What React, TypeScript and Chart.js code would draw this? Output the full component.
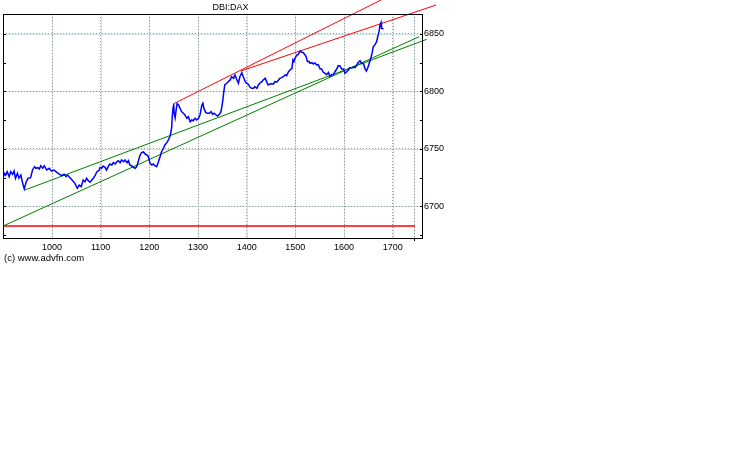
import { useEffect, useRef } from 'react';
import { Chart, registerables } from 'chart.js';

Chart.register(...registerables);

// Intraday time axis (HHMM-style index) and DAX price
const times = [
  900, 903, 905, 908, 912, 915, 919, 922, 925, 929, 932, 936, 939, 943, 947, 951, 956, 960, 964, 967,
  971, 974, 977, 981, 984, 989, 994, 999, 1004, 1010, 1015, 1020, 1025, 1029, 1032, 1037, 1043, 1047, 1052, 1056,
  1060, 1064, 1068, 1071, 1075, 1078, 1082, 1085, 1088, 1092, 1097,
  1099, 1102, 1105, 1109, 1112, 1116, 1119, 1123, 1126, 1130, 1133, 1136, 1140, 1143, 1147, 1150, 1154, 1157, 1160,
  1164, 1167, 1171, 1174, 1177, 1181, 1184, 1188, 1191, 1195, 1198, 1201, 1205, 1208, 1212, 1215, 1218, 1222, 1225,
  1229, 1232, 1236, 1239, 1242, 1244, 1246, 1247, 1249, 1250, 1251, 1253, 1255, 1257, 1260, 1263, 1266, 1270, 1273,
  1277, 1280, 1284, 1287, 1290, 1294, 1297, 1301, 1304, 1308, 1310, 1312, 1316, 1320, 1323, 1327, 1330, 1333, 1337,
  1340, 1344, 1347, 1349, 1351, 1353, 1355, 1359, 1362, 1366, 1369, 1373, 1376, 1380, 1383, 1386, 1390, 1393, 1397,
  1400, 1403, 1407, 1410, 1414, 1417, 1421, 1424, 1427, 1431, 1434, 1438, 1441, 1444, 1448, 1451, 1455, 1458, 1462, 1465,
  1468, 1472, 1475, 1479, 1482, 1486, 1489, 1493, 1495, 1497, 1499, 1503, 1506, 1510, 1513, 1516, 1520, 1522, 1525,
  1528, 1530, 1534, 1537, 1540, 1544, 1547, 1551, 1554, 1557, 1561, 1564, 1568, 1571, 1575, 1578, 1581, 1585, 1588,
  1592, 1595, 1599, 1602, 1606, 1609, 1612, 1616, 1619, 1623, 1626, 1629, 1633, 1636, 1640, 1643, 1646, 1649, 1652,
  1655, 1658, 1660, 1664, 1667, 1669, 1672, 1674, 1676, 1677, 1681,
];

const prices = [
  6725.8, 6728.7, 6727.2, 6730.1, 6725.8, 6730.1, 6727.9, 6730.7, 6724.4, 6728.7, 6724.4, 6727.2, 6721.4, 6715.2, 6721.4, 6724.4, 6724.9, 6731.6, 6734.5, 6733.1,
  6733.6, 6732.5, 6735.3, 6733.1, 6735.3, 6731.6, 6733.1, 6730.7, 6731.6, 6729.6, 6727.9, 6726.6, 6727.9, 6725.8, 6727.2, 6724.9, 6722.0, 6720.0, 6715.7, 6718.5,
  6717.1, 6722.9, 6721.4, 6724.4, 6722.0, 6720.9, 6722.9, 6724.4, 6726.4, 6729.9, 6731.6,
  6733.9, 6733.1, 6735.1, 6733.9, 6731.6, 6735.1, 6736.8, 6736.0, 6738.0, 6736.8, 6738.8, 6739.7, 6738.0, 6740.3, 6738.8, 6740.3, 6738.0, 6739.7, 6736.0,
  6735.1, 6733.9, 6733.1, 6734.5, 6738.8, 6744.7, 6746.7, 6747.3, 6745.5, 6744.7, 6743.2, 6738.0, 6736.0, 6736.8, 6735.1, 6734.5, 6738.0, 6743.2, 6747.5,
  6750.5, 6753.4, 6755.4, 6757.7, 6760.6, 6763.6, 6769.3, 6778.0, 6786.7, 6789.1, 6781.0, 6776.9, 6783.8, 6789.5, 6788.2, 6785.3, 6782.4, 6781.0, 6779.5,
  6776.6, 6778.0, 6773.6, 6775.1, 6774.5, 6776.6, 6775.1, 6776.6, 6779.5, 6788.2, 6789.7, 6785.3, 6781.5, 6781.0, 6781.0, 6782.4, 6780.1, 6781.0, 6779.5,
  6778.6, 6780.1, 6782.4, 6786.7, 6792.5, 6799.8, 6805.6, 6807.1, 6808.5, 6810.0, 6812.8, 6811.4, 6814.3, 6810.0, 6807.1, 6812.8, 6816.3, 6812.8, 6808.5,
  6807.1, 6806.5, 6803.6, 6802.7, 6802.7, 6804.1, 6802.7, 6805.6, 6807.1, 6808.5, 6810.0, 6811.4, 6808.5, 6805.6, 6806.5, 6806.6, 6806.5, 6808.5, 6808.2, 6809.7,
  6811.4, 6812.0, 6812.8, 6814.3, 6813.7, 6817.2, 6818.7, 6820.1, 6827.4, 6825.9, 6828.8, 6831.7, 6832.3, 6835.2, 6834.1, 6833.9, 6831.7, 6830.4, 6825.9,
  6826.2, 6824.5, 6825.0, 6823.9, 6824.8, 6823.0, 6823.3, 6819.5, 6819.5, 6816.9, 6815.8, 6814.6, 6816.5, 6813.0, 6814.7, 6814.6, 6816.9, 6819.5, 6822.4,
  6822.1, 6819.5, 6819.5, 6815.8, 6817.4, 6818.7, 6820.8, 6820.4, 6821.1, 6820.8, 6823.0, 6825.2, 6826.7, 6824.5, 6824.1, 6820.1, 6817.8, 6820.8, 6824.8,
  6828.8, 6834.1, 6838.9, 6840.9, 6843.3, 6847.4, 6852.0, 6857.8, 6860.0, 6855.0, 6854.4,
];

// Trend lines (start / end)
const redUpperX = [1249, 1676];
const redUpperY = [6789.1, 6879.6];
const redLowerX = [1388, 1789];
const redLowerY = [6817.8, 6875.2];
const greenUpperX = [944.5, 1770];
const greenUpperY = [6714.2, 6845.4];
const greenLowerX = [899.3, 1754];
const greenLowerY = [6682.8, 6847.6];
const supportX = [899.3, 1746];
const supportY = [6682.8, 6682.8];

// Axes
const xMin = 899.3;
const xMax = 1760.2;
const yMin = 6672.4;
const yMax = 6867.4;
const xTickValues = [1000, 1100, 1200, 1300, 1400, 1500, 1600, 1700];
const sessionMarks = [1744];
const yTickValues = [6700, 6750, 6800, 6850];
const yMinorTicks = [6675, 6700, 6725, 6750, 6775, 6800, 6825, 6850];

const titleText = 'DBI:DAX';
const creditText = '(c) www.advfn.com';

const FONT = '"Liberation Sans", Arial, Helvetica, sans-serif';

function pts(xs: number[], ys: number[]) {
  return xs.map((x, i) => ({ x, y: ys[i] }));
}

export default function App() {
  const ref = useRef<HTMLCanvasElement | null>(null);

  useEffect(() => {
    if (!ref.current) return;

    const decor = {
      id: 'decor',
      beforeDraw(chart: any) {
        const ctx = chart.ctx;
        const a = chart.chartArea;
        const xs = chart.scales.x;
        const ys = chart.scales.y;
        ctx.save();
        ctx.fillStyle = '#ffffff';
        ctx.fillRect(0, 0, chart.width, chart.height);
        // light teal under-layer of the dotted grid
        ctx.strokeStyle = '#cfe2e2';
        ctx.lineWidth = 1;
        ctx.beginPath();
        [...xTickValues, ...sessionMarks].forEach((v) => {
          const px = Math.round(xs.getPixelForValue(v)) + 0.5;
          ctx.moveTo(px, a.top);
          ctx.lineTo(px, a.bottom);
        });
        yTickValues.forEach((v) => {
          const py = Math.round(ys.getPixelForValue(v)) + 0.5;
          ctx.moveTo(a.left, py);
          ctx.lineTo(a.right, py);
        });
        ctx.stroke();
        ctx.restore();
      },
      afterDatasetsDraw(chart: any) {
        const ctx = chart.ctx;
        const a = chart.chartArea;
        const ys = chart.scales.y;
        const xs = chart.scales.x;
        ctx.save();
        ctx.strokeStyle = '#000000';
        ctx.lineWidth = 1;
        ctx.strokeRect(a.left + 0.5, a.top + 0.5, a.right - a.left, a.bottom - a.top);
        ctx.beginPath();
        yMinorTicks.forEach((v) => {
          const py = Math.round(ys.getPixelForValue(v)) + 0.5;
          ctx.moveTo(a.left, py);
          ctx.lineTo(a.left + 3, py);
          ctx.moveTo(a.right - 2, py);
          ctx.lineTo(a.right + 1, py);
        });
        sessionMarks.forEach((v) => {
          const px = Math.round(xs.getPixelForValue(v)) + 0.5;
          ctx.moveTo(px, a.bottom);
          ctx.lineTo(px, a.bottom + 3);
        });
        ctx.stroke();
        ctx.fillStyle = '#000000';
        ctx.font = `9px ${FONT}`;
        ctx.textBaseline = 'middle';
        ctx.textAlign = 'center';
        ctx.fillText(titleText, 230.5, 7.5);
        ctx.textAlign = 'left';
        ctx.font = `9.5px ${FONT}`;
        ctx.fillText(creditText, 4, 258.5);
        ctx.restore();
      },
    };

    const line = (data: any[], color: string, width: number, clip: boolean) => ({
      data,
      borderColor: color,
      backgroundColor: color,
      borderWidth: width,
      pointRadius: 0,
      showLine: true,
      fill: false,
      tension: 0,
      clip: clip ? undefined : false,
    });

    const chart = new Chart(ref.current, {
      type: 'scatter',
      data: {
        datasets: [
          line(pts(times, prices), '#0000ff', 1.5, true),
          line(pts(redUpperX, redUpperY), '#ff0000', 1, false),
          line(pts(redLowerX, redLowerY), '#ff0000', 1, false),
          line(pts(greenUpperX, greenUpperY), '#008000', 1, false),
          line(pts(greenLowerX, greenLowerY), '#008000', 1, false),
          line(pts(supportX, supportY), '#ff0000', 1.5, true),
        ] as any,
      },
      options: {
        animation: false,
        responsive: false,
        devicePixelRatio: 1,
        events: [],
        layout: { padding: { left: 3, top: 14, right: 0, bottom: 0 } },
        plugins: {
          legend: { display: false },
          tooltip: { enabled: false },
          title: { display: false },
        },
        scales: {
          x: {
            type: 'linear',
            min: xMin,
            max: xMax,
            afterBuildTicks: (s: any) => {
              s.ticks = [...xTickValues, ...sessionMarks].map((v) => ({ value: v }));
            },
            afterFit: (s: any) => {
              s.height = 237;
            },
            grid: { color: '#9a9a9a', lineWidth: 1, drawTicks: false },
            border: { display: false, dash: [1, 2] },
            ticks: {
              autoSkip: false,
              maxRotation: 0,
              minRotation: 0,
              padding: 4,
              color: '#000000',
              font: { family: FONT, size: 9 },
              callback: (v: any) => (xTickValues.includes(Number(v)) ? String(v) : ''),
            },
          },
          y: {
            type: 'linear',
            position: 'right',
            min: yMin,
            max: yMax,
            afterBuildTicks: (s: any) => {
              s.ticks = yTickValues.map((v) => ({ value: v }));
            },
            afterFit: (s: any) => {
              s.width = 316;
            },
            grid: { color: '#9a9a9a', lineWidth: 1, drawTicks: false },
            border: { display: false, dash: [1, 2] },
            ticks: {
              padding: 2,
              color: '#000000',
              font: { family: FONT, size: 9 },
              callback: (v: any) => String(v),
            },
          },
        },
      } as any,
      plugins: [decor],
    });

    return () => chart.destroy();
  }, []);

  return (
    <div style={{ position: 'absolute', left: 0, top: 0, width: 738, height: 475, background: '#fff' }}>
      <canvas ref={ref} width={738} height={475} style={{ display: 'block', width: 738, height: 475 }} />
    </div>
  );
}
